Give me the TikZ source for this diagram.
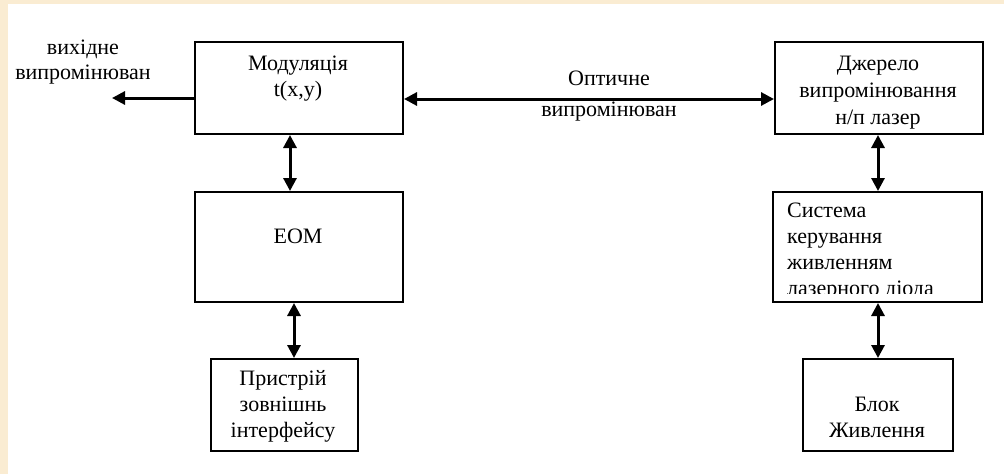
\documentclass[tikz,border=0pt]{standalone}
\usepackage{fontspec}
\setmainfont{Liberation Serif}
\usetikzlibrary{arrows.meta}
\definecolor{cream}{RGB}{250,236,210}
\tikzset{
  blk/.style={draw=black, line width=2pt, inner sep=0pt, anchor=north west},
  txt/.style={font=\fontsize{22}{26}\selectfont, align=center, inner sep=0pt},
  link/.style={line width=3pt, {Triangle[length=13pt,width=13pt]}-{Triangle[length=13pt,width=13pt]}},
  outarrow/.style={line width=3pt, -{Triangle[length=13pt,width=13pt]}}
}
\begin{document}
\begin{tikzpicture}[x=1pt, y=-1pt]
  % page and its tinted frame
  \fill[cream] (0,0) rectangle (1004,474);
  \fill[white] (8,4) rectangle (1004,474);
  \useasboundingbox (0,0) rectangle (1004,474);

  % blocks
  \node[blk, minimum width=208pt, minimum height=92pt]  (mod) at (194,41) {};
  \node[blk, minimum width=208pt, minimum height=110pt] (eom) at (194,191) {};
  \node[blk, minimum width=147pt, minimum height=92pt]  (dev) at (210,358) {};
  \node[blk, minimum width=208pt, minimum height=92pt]  (src) at (774,41) {};
  \node[blk, minimum width=209pt, minimum height=110pt] (ctl) at (772,191) {};
  \node[blk, minimum width=150pt, minimum height=92pt]  (pwr) at (802,358) {};

  % block texts
  \node[txt] (modt) at (298,79) {Модуляція\\t(x,y)};
  \node[txt, anchor=base] (eomt) at (298,243) {ЕОМ};
  \node[txt] (devt) at (283,406) {Пристрій\\зовнішнь\\інтерфейсу};
  \node[txt, font=\fontsize{22}{27}\selectfont] (srct) at (878,93) {Джерело\\випромінювання\\н/п лазер};
  \node[txt] (pwrt) at (877,417) {Блок\\Живлення};
  \begin{scope}
    \clip (773,192) rectangle (980,293);
    \node[txt, align=left, anchor=north west] (ctlt) at (787,202.5)
      {Система\\керування\\живленням\\лазерного діода};
  \end{scope}

  % free end of the output beam
  \coordinate (beam) at (112,98);
  \node[txt, font=\fontsize{22}{25}\selectfont] (beamt) at (83,62) {вихідне\\випромінюван};
  \node[txt] (optt) at (609,96) {Оптичне\\[5pt]випромінюван};

  % connectors
  \draw[outarrow] (mod.west |- beam) -- (beam);
  \draw[link] ([yshift=-11pt]mod.east) -- ([yshift=-11pt]src.west);
  \draw[link] ([xshift=-9pt]mod.south) -- ([xshift=-9pt]eom.north);
  \draw[link] ([xshift=-5pt]eom.south) -- ([xshift=9.5pt]dev.north);
  \draw[link] ([xshift=-1pt]src.south) -- ([xshift=0.5pt]ctl.north);
  \draw[link] ([xshift=0.5pt]ctl.south) -- (pwr.north);
\end{tikzpicture}
\end{document}
